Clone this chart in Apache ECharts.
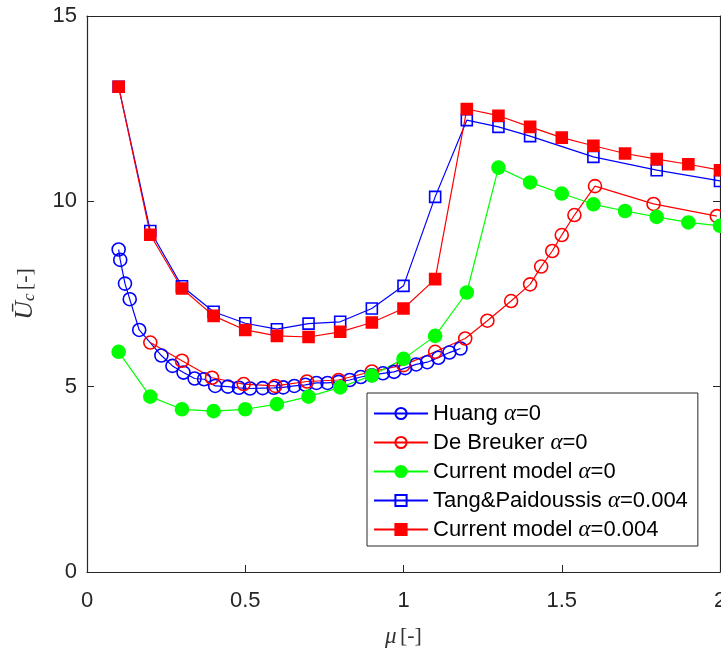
<!DOCTYPE html>
<html>
<head>
<meta charset="utf-8">
<script src="https://cdn.jsdelivr.net/npm/echarts@6/dist/echarts.min.js"></script>
<style>html,body{margin:0;padding:0;background:#fff;overflow:hidden}#c{width:721px;height:648px}</style>
</head>
<body>
<div id="c"></div>
<script>
// Huang alpha=0
const huangX = [0.10,0.105,0.12,0.135,0.165,0.235,0.27,0.305,0.34,0.37,0.405,0.445,0.48,0.515,0.555,0.59,0.62,0.655,0.69,0.725,0.76,0.795,0.83,0.865,0.90,0.935,0.97,1.005,1.04,1.075,1.11,1.145,1.18];
const huangY = [8.70,8.42,7.78,7.36,6.53,5.84,5.56,5.38,5.22,5.20,5.02,5.00,4.97,4.95,4.96,4.97,4.98,5.02,5.05,5.10,5.10,5.13,5.18,5.26,5.31,5.36,5.40,5.50,5.60,5.66,5.78,5.92,6.03];
// De Breuker alpha=0
const breukerX = [0.2,0.3,0.395,0.495,0.595,0.695,0.795,0.9,1.0,1.1,1.195,1.265,1.34,1.4,1.435,1.47,1.5,1.54,1.605,1.79,1.99];
const breukerY = [6.19,5.70,5.24,5.07,5.02,5.14,5.18,5.41,5.58,5.94,6.30,6.78,7.31,7.76,8.24,8.66,9.09,9.63,10.41,9.93,9.60];
// Current model alpha=0
const currentX = [0.1,0.2,0.3,0.4,0.5,0.6,0.7,0.8,0.9,1.0,1.1,1.2,1.3,1.4,1.5,1.6,1.7,1.8,1.9,2.0];
const currentY = [5.94,4.73,4.39,4.34,4.39,4.53,4.73,4.98,5.30,5.75,6.37,7.54,10.91,10.51,10.21,9.92,9.74,9.58,9.43,9.34];
// Tang&Paidoussis alpha=0.004
const tangX = [0.1,0.2,0.3,0.4,0.5,0.6,0.7,0.8,0.9,1.0,1.1,1.2,1.3,1.4,1.6,1.8,2.0];
const tangY = [13.09,9.20,7.71,7.02,6.71,6.55,6.70,6.75,7.11,7.72,10.12,12.19,12.01,11.76,11.20,10.84,10.55];
// Current model alpha=0.004
const curAX = [0.1,0.2,0.3,0.4,0.5,0.6,0.7,0.8,0.9,1.0,1.1,1.2,1.3,1.4,1.5,1.6,1.7,1.8,1.9,2.0];
const curAY = [13.09,9.10,7.65,6.91,6.53,6.37,6.34,6.48,6.73,7.11,7.90,12.49,12.31,12.01,11.72,11.50,11.29,11.14,11.00,10.84];

const xTicks = [0,0.5,1,1.5,2];
const yTicks = [0,5,10,15];

const names = ['Huang α=0','De Breuker α=0','Current model α=0','Tang&Paidoussis α=0.004','Current model α=0.004'];
const zip = (xs, ys) => xs.map((x, i) => [x, ys[i]]);

const axisCol = '#262626';
const blue = '#0000ff', red = '#ff0000', green = '#00ff00';

function mk(name, xs, ys, color, symbol, size, filled) {
  return {
    name: name, type: 'line', data: zip(xs, ys),
    symbol: symbol, symbolSize: size, showSymbol: true,
    lineStyle: {color: color, width: 1.2},
    itemStyle: filled ? {color: color, borderColor: color, borderWidth: 1.6} : {color: 'rgba(255,255,255,0)', borderColor: color, borderWidth: 1.6},
    emphasis: {disabled: true},
    animation: false
  };
}

const chart = echarts.init(document.getElementById('c'), null, {renderer: 'canvas'});
const tickCommon = {show: true, inside: true, length: 7, lineStyle: {color: axisCol, width: 1}};
const lineCommon = {show: true, onZero: false, lineStyle: {color: axisCol, width: 1.2}};
chart.setOption({
  backgroundColor: '#fff',
  animation: false,
  grid: {left: 87, right: 1, top: 16, bottom: 76, containLabel: false, outerBoundsMode: 'none'},
  legend: {
    orient: 'vertical', left: 367, top: 393,
    data: names,
    itemWidth: 54, itemHeight: 14, itemGap: 6,
    padding: [9, 10, 5, 6],
    borderColor: axisCol, borderWidth: 1, backgroundColor: '#fff',
    textStyle: {
      fontFamily: 'Liberation Sans, Arial', fontSize: 22, color: '#000', lineHeight: 21,
      rich: {a: {fontFamily: 'Liberation Serif', fontStyle: 'italic', fontSize: 23, color: '#000', lineHeight: 21},
             t: {fontFamily: 'Liberation Sans', fontSize: 22, color: '#000', lineHeight: 21}}
    },
    formatter: function (n) {
      const i = n.indexOf('α');
      return '{t|' + n.slice(0, i) + '}{a|α}{t|' + n.slice(i + 1) + '}';
    }
  },
  xAxis: [{
    type: 'value', min: 0, max: 2, interval: 0.5, position: 'bottom',
    axisLine: lineCommon, axisTick: tickCommon, splitLine: {show: false},
    axisLabel: {color: axisCol, fontFamily: 'Liberation Sans, Arial', fontSize: 22, margin: 18,
      formatter: v => String(xTicks.find(t => Math.abs(t - v) < 1e-9) ?? v)},
    name: '{m|μ} {b|[-]}', nameLocation: 'middle', nameGap: 53,
    nameTextStyle: {rich: {m: {fontFamily: 'Liberation Serif', fontStyle: 'italic', fontSize: 23, color: '#333'},
                           b: {fontFamily: 'Liberation Serif', fontSize: 22, color: '#333'}}}
  }, {
    type: 'value', min: 0, max: 2, interval: 0.5, position: 'top',
    axisLine: lineCommon, axisTick: {show: false}, axisLabel: {show: false}, splitLine: {show: false}
  }],
  yAxis: [{
    type: 'value', min: 0, max: 15, interval: 5, position: 'left',
    axisLine: lineCommon, axisTick: tickCommon, splitLine: {show: false},
    axisLabel: {color: axisCol, fontFamily: 'Liberation Sans, Arial', fontSize: 22, margin: 10,
      formatter: v => String(yTicks.find(t => Math.abs(t - v) < 1e-9) ?? v)},
    name: '{u|U\u0304}{s|c} {b|[-]}', nameLocation: 'middle', nameGap: 49, nameRotate: 90,
    nameTextStyle: {rich: {u: {fontFamily: 'Liberation Serif', fontStyle: 'italic', fontSize: 26, color: '#333'},
                           s: {fontFamily: 'Liberation Serif', fontStyle: 'italic', fontSize: 17, color: '#333', verticalAlign: 'bottom', padding: [9, 0, 0, 0]},
                           b: {fontFamily: 'Liberation Serif', fontSize: 22, color: '#333'}}}
  }, {
    type: 'value', min: 0, max: 15, interval: 5, position: 'right',
    axisLine: lineCommon, axisTick: tickCommon, axisLabel: {show: false}, splitLine: {show: false}
  }],
  series: [
    mk(names[0], huangX, huangY, blue, 'circle', 13, false),
    mk(names[1], breukerX, breukerY, red, 'circle', 13, false),
    mk(names[2], currentX, currentY, green, 'circle', 13, true),
    mk(names[3], tangX, tangY, blue, 'rect', 11, false),
    mk(names[4], curAX, curAY, red, 'rect', 11, true)
  ]
});
</script>
</body>
</html>
